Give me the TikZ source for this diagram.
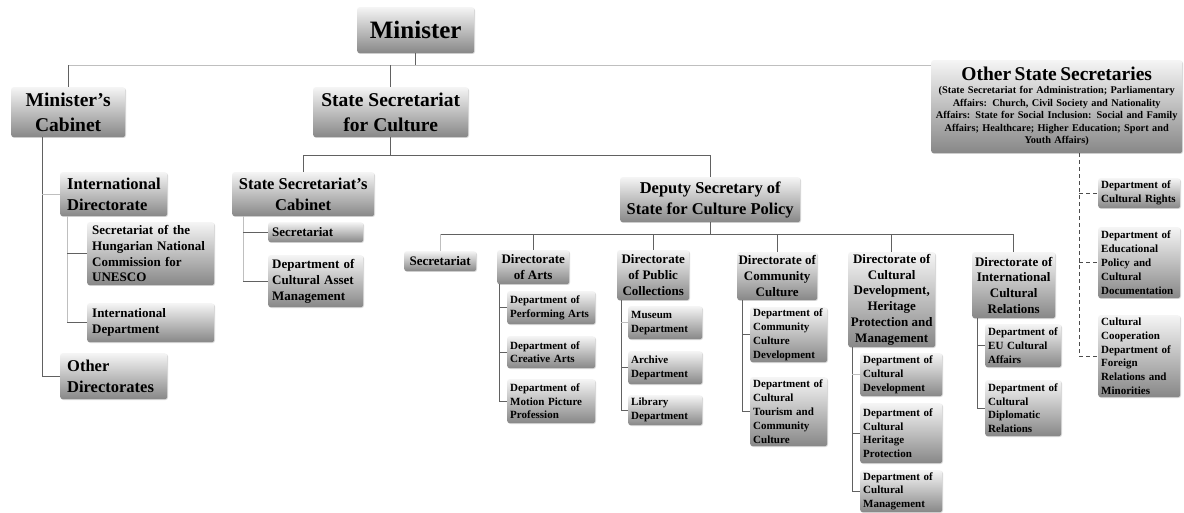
\documentclass[tikz,border=0pt]{standalone}
\usepackage{fontspec}
\setmainfont{Liberation Serif}
\usetikzlibrary{shadows,calc}
\newcommand{\fA}{\fontsize{25}{28}\selectfont\bfseries}
\newcommand{\fB}{\fontsize{19.5}{25}\selectfont\bfseries}
\newcommand{\fC}{\fontsize{16.5}{21}\selectfont\bfseries}
\newcommand{\fD}{\fontsize{13}{15.7}\selectfont\bfseries}
\newcommand{\fE}{\fontsize{11}{13.8}\selectfont\bfseries}
\newcommand{\fS}{\fontsize{10.3}{12.6}\selectfont\bfseries}
\tikzset{
  box/.style={rounded corners=2.5pt, top color=black!4, bottom color=black!47, draw=none,
    drop shadow={shadow xshift=0.8pt, shadow yshift=-0.8pt, opacity=0.3}, inner ysep=1pt},
  conn/.style={draw=black!62, line width=0.9pt},
  lconn/.style={draw=black!25, line width=0.8pt},
  dconn/.style={draw=black!70, line width=0.8pt, dash pattern=on 4pt off 3pt},
  L/.style={align=left}, C/.style={align=center},
}
% box with fixed text width
\newcommand{\bx}[8]{%
  \pgfmathsetmacro\bxtw{#4-#2-2*#6}%
  \pgfmathsetmacro\bxth{#5-#3}%
  \node[box,#7,anchor=north west,inner xsep=#6pt,text width=\bxtw pt,minimum height=\bxth pt] (#1) at (#2,#3) {#8};}
% centred box: fixed minimum width, no wrapping
\newcommand{\cbx}[8]{%
  \pgfmathsetmacro\bxw{#4-#2}%
  \pgfmathsetmacro\bxth{#5-#3}%
  \node[box,#7,align=center,anchor=north west,inner xsep=#6pt,minimum width=\bxw pt,minimum height=\bxth pt] (#1) at (#2,#3) {#8};}
\begin{document}
\begin{tikzpicture}[x=1pt,y=-1pt]
\fill[white] (0,0) rectangle (1184,513);
\useasboundingbox (0,0) rectangle (1184,513);

% top levels
\cbx{min}{357}{7}{474}{53}{2}{font=\fA}{Minister}
\cbx{mcab}{11}{87}{125}{137}{2}{font=\fB}{Minister’s\\Cabinet}
\cbx{ssc}{313}{87}{468}{137}{2}{font=\fB}{State Secretariat\\for Culture}
\bx{oss}{931}{60}{1182}{153}{1}{C,font=\fS}{{\fB Other State Secretaries\par}(State Secretariat for Administration; Parliamentary\\Affairs: Church, Civil Society and Nationality\\Affairs: State for Social Inclusion: Social and Family\\Affairs; Healthcare; Higher Education; Sport and\\Youth Affairs)}

% minister's cabinet branch
\bx{intdir}{60}{172}{167}{216}{7}{L,font=\fC}{International\\Directorate}
\bx{othdir}{60}{353}{167}{399}{7}{L,font=\fC}{Other\\Directorates}
\bx{unesco}{87}{222}{214}{285}{5}{L,font=\fD}{Secretariat of the\\Hungarian National\\Commission for\\UNESCO}
\bx{intdept}{87}{303}{214}{342}{5}{L,font=\fD}{International\\Department}

% state secretariat branch
\cbx{sscab}{232}{172}{374}{216}{2}{font=\fC}{State Secretariat’s\\Cabinet}
\bx{sec1}{268}{222}{363}{242}{4}{L,font=\fD}{Secretariat}
\bx{dcam}{268}{255}{363}{307}{4}{L,font=\fD}{Department of\\Cultural Asset\\Management}
\cbx{dep}{620}{177}{800}{222}{2}{font=\fC}{Deputy Secretary of\\State for Culture Policy}

% directorates
\cbx{sec2}{404}{251}{476}{271}{1}{font=\fD}{Secretariat}
\cbx{darts}{497}{250}{569}{284}{1}{font=\fD}{Directorate\\of Arts}
\cbx{dpub}{617}{250}{689}{300}{1}{font=\fD}{Directorate\\of Public\\Collections}
\cbx{dcom}{737}{252}{817}{300}{0.5}{font=\fD}{Directorate of\\Community\\Culture}
\cbx{dcult}{848}{252}{935}{347}{1}{font=\fD}{Directorate of\\Cultural\\Development,\\Heritage\\Protection and\\Management}
\cbx{dint}{972}{252}{1055}{318}{1}{font=\fD}{Directorate of\\International\\Cultural\\Relations}

% departments
\bx{perf}{507}{291}{595}{324}{3}{L,font=\fE}{Department of\\Performing Arts}
\bx{crea}{507}{336}{595}{368}{3}{L,font=\fE}{Department of\\Creative Arts}
\bx{moti}{507}{379}{595}{423}{3}{L,font=\fE}{Department of\\Motion Picture\\Profession}
\bx{muse}{628}{306}{702}{339}{3}{L,font=\fE}{Museum\\Department}
\bx{arch}{628}{351}{702}{384}{3}{L,font=\fE}{Archive\\Department}
\bx{libr}{628}{395}{702}{425}{3}{L,font=\fE}{Library\\Department}
\bx{ccd}{750}{307}{827}{362}{3}{L,font=\fE}{Department of\\Community\\Culture\\Development}
\bx{ctc}{750}{377}{827}{446}{3}{L,font=\fE}{Department of\\Cultural\\Tourism and\\Community\\Culture}
\bx{dcd}{860}{353}{942}{396}{3}{L,font=\fE}{Department of\\Cultural\\Development}
\bx{dch}{860}{403}{942}{463}{3}{L,font=\fE}{Department of\\Cultural\\Heritage\\Protection}
\bx{dcm}{860}{470}{942}{512}{3}{L,font=\fE}{Department of\\Cultural\\Management}
\bx{deu}{985}{324}{1061}{367}{3}{L,font=\fE}{Department of\\EU Cultural\\Affairs}
\bx{ddr}{985}{380}{1061}{436}{3}{L,font=\fE}{Department of\\Cultural\\Diplomatic\\Relations}
\bx{dcr}{1098}{178}{1180}{208}{3}{L,font=\fE}{Department of\\Cultural Rights}
\bx{dedu}{1098}{227}{1180}{298}{3}{L,font=\fE}{Department of\\Educational\\Policy and\\Cultural\\Documentation}
\bx{dfor}{1098}{315}{1180}{397}{3}{L,font=\fE}{Cultural\\Cooperation\\Department of\\Foreign\\Relations and\\Minorities}

% connectors: minister level
\coordinate (mbus) at (0,65);
\coordinate (sbus) at (0,155);
\coordinate (dbus) at (0,234);
\draw[lconn] (mcab.north |- mbus) -- (oss.west |- mbus);
\draw[conn] (min.south) -- (min.south |- mbus);
\draw[conn] (mcab.north) -- (mcab.north |- mbus);
\draw[conn] (ssc.north) -- (ssc.north |- mbus);

% state secretariat level
\draw[conn] (ssc.south) -- (ssc.south |- sbus);
\draw[conn] (sscab.north) -- (sscab.north |- sbus) -- (dep.north |- sbus) -- (dep.north);

% deputy level
\draw[conn] (dep.south) -- (dep.south |- dbus);
\draw[conn] (sec2.north |- dbus) -- (dint.north |- dbus);
\draw[lconn] (sec2.north) -- (sec2.north |- dbus);
\foreach \n in {darts,dpub,dcom,dcult,dint}
  \draw[conn] (\n.north) -- (\n.north |- dbus);

% minister's cabinet trunk
\coordinate (t1) at ($(mcab.south west)+(31,0)$);
\draw[conn] (t1) |- (othdir.west);
\draw[lconn] (t1 |- intdir.west) -- (intdir.west);
\coordinate (t2) at ($(intdir.south west)+(7,0)$);
\draw[lconn] (t2) -- (t2 |- intdept.west);
\draw[conn] (t2 |- unesco.west) -- (unesco.west);
\draw[conn] (t2 |- intdept.west) -- (intdept.west);

% state secretariat's cabinet trunk
\coordinate (t3) at ($(sscab.south west)+(11,0)$);
\draw[lconn] (t3) -- (t3 |- dcam.west);
\draw[conn] (t3 |- sec1.west) -- (sec1.west);
\draw[conn] (t3 |- dcam.west) -- (dcam.west);

% directorate trunks
\coordinate (t4) at ($(darts.south west)+(2,0)$);
\draw[conn] (t4) |- (moti.west);
\draw[conn] (t4 |- perf.west) -- (perf.west);
\draw[conn] (t4 |- crea.west) -- (crea.west);

\coordinate (t5) at ($(dpub.south west)+(4,0)$);
\draw[conn] (t5) |- (libr.west);
\draw[lconn] (t5 |- muse.west) -- (muse.west);
\draw[conn] (t5 |- arch.west) -- (arch.west);

\coordinate (t6) at ($(dcom.south west)+(5,0)$);
\draw[conn] (t6) |- (ctc.west);
\draw[conn] (t6 |- ccd.west) -- (ccd.west);

\coordinate (t7) at ($(dcult.south west)+(4,0)$);
\draw[conn] (t7) |- (dcm.west);
\draw[lconn] (t7 |- dcd.west) -- (dcd.west);
\draw[conn] (t7 |- dch.west) -- (dch.west);

\coordinate (t8) at ($(dint.south west)+(5,0)$);
\draw[conn] (t8) |- (ddr.west);
\draw[conn] (t8 |- deu.west) -- (deu.west);

% other state secretaries (dashed)
\coordinate (t9) at ($(oss.south west)+(148,0)$);
\draw[dconn] (t9) |- (dfor.west);
\draw[dconn] (t9 |- dcr.west) -- (dcr.west);
\draw[dconn] (t9 |- dedu.west) -- (dedu.west);
\end{tikzpicture}
\end{document}
